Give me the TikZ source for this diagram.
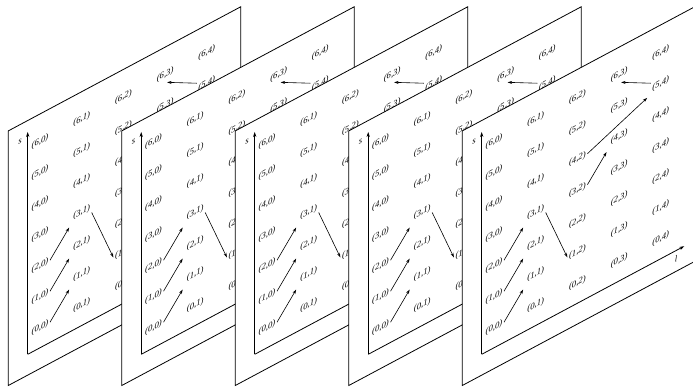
\documentclass[tikz,border=0pt]{standalone}
\usepackage{fontspec}
\setmainfont{Liberation Serif}
\usepackage{tikz}
\usetikzlibrary{arrows.meta}

\tikzset{
  plane/.style={draw, fill=white, line width=0.8pt},
  pair/.style={font=\fontsize{8.7}{10}\selectfont\itshape, inner sep=1.5pt, transform shape},
  move/.style={-{Stealth[length=4.5pt, width=3pt]}, line width=0.6pt},
  axis/.style={-{Stealth[length=5pt, width=3.2pt]}, line width=0.8pt},
}

\begin{document}
\begin{tikzpicture}[x=1pt, y=1pt]
  \useasboundingbox (0,0) rectangle (693,387);
  \foreach \k in {0,...,4} {
    \begin{scope}[shift={(8.3+113.5*\k,1.5)}, yslant=0.534]
      \draw[plane] (0,0) -- (232.5,0) -- (232.5,254.6) -- (0,254.6) -- cycle;
      \coordinate (o) at (19.4,20.8);
      \coordinate (stip) at (19.4,243.2);
      \coordinate (ltip) at (222,20.8);
      \draw[axis] (o) -- (stip);
      \draw[axis] (o) -- (ltip);
      \node[pair] (slab) at (11.7,237.3) {s};
      \node[pair] (llab) at (213.7,12.5) {l};
      \foreach \i in {0,...,6}
        \foreach \j in {0,...,4}
          \node[pair] (p\i\j) at (31.7+41.7*\j,41+31*\i) {(\i,\j)};
      \draw[move, shorten >=5pt] (p00.east) -- (p11.south west);
      \draw[move, shorten >=5pt] (p10.east) -- (p21.south west);
      \draw[move, shorten >=5pt] (p20.east) -- (p31.south west);
      \draw[move] (p31.south east) -- (p12.west);
      \draw[move, shorten >=5pt] (p32.east) -- (p43.south west);
      \draw[move, shorten >=5pt] (p42.east) -- (p54.south west);
      \draw[move] (p54.north west) -- ([xshift=2pt, yshift=-3pt]p63.south);
    \end{scope}
  }
\end{tikzpicture}
\end{document}
